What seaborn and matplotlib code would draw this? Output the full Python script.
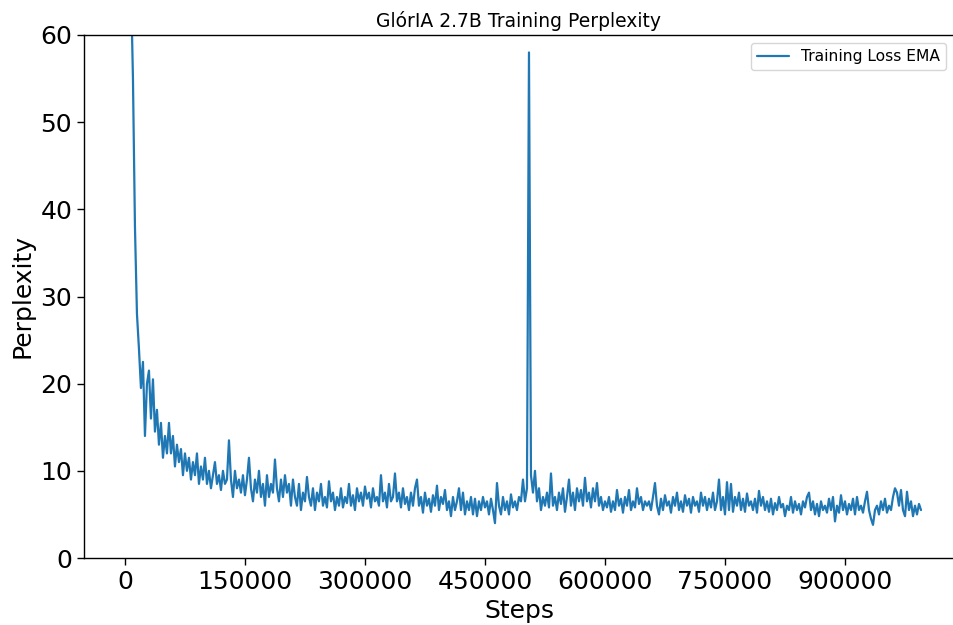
import numpy as np
import pandas as pd
import matplotlib
matplotlib.use("Agg")
import matplotlib.pyplot as plt
import seaborn as sns

# ---- data ----
step_start = 5000
step_size = 2500

ppl_000k = [85, 66, 55, 38, 28, 24, 19.5, 22.5, 14, 20, 21.5, 16, 20.5, 14.5, 17, 13, 15.5, 11.5, 14, 12]
ppl_050k = [15.5, 12, 14, 10.5, 13, 11, 12.5, 9.5, 12, 10, 11.5, 9, 11, 9.5, 12, 8.5, 10.5, 9, 11.5, 8.5]
ppl_100k = [10, 8, 9.5, 11, 8.5, 9.5, 7.8, 10, 8.5, 9, 13.5, 9, 7, 10, 8, 9, 7.5, 9.5, 7.2, 9]
ppl_150k = [11.5, 8, 6.5, 9, 7.5, 10, 7, 8.5, 6, 9.5, 7, 8.5, 7.5, 11.3, 8, 6.5, 9, 7, 9.5, 7.5]
ppl_200k = [8.5, 6, 9, 7, 6, 8.5, 5.5, 7.5, 6.5, 9.3, 7, 6, 8, 5.5, 7.5, 6.5, 8.5, 6, 7, 5.8]
ppl_250k = [8.8, 6.5, 7.5, 5.5, 7, 6, 8, 5.8, 7, 6.3, 8.5, 6, 7.2, 5.5, 8, 6.5, 7.5, 6, 8.2, 6.8]
ppl_300k = [7.5, 5.8, 8, 6.5, 7, 6, 9.5, 6.5, 7.5, 5.8, 8.5, 6.5, 7, 9.7, 6.5, 7.5, 5.8, 8, 6.2, 7]
ppl_350k = [5.5, 7.5, 6, 8, 9, 6, 7, 5.2, 7.5, 6, 6.8, 5.3, 7.2, 6, 8.3, 5.5, 7, 6.2, 7.8, 5.5]
ppl_400k = [6.5, 4.8, 7, 5.5, 6.5, 8, 5.5, 7.5, 5, 6.5, 5.5, 7, 5, 6.8, 4.8, 6.5, 5.5, 7, 5.8, 6.5]
ppl_450k = [5, 6.8, 5.5, 4, 8.6, 6, 5, 7, 5.5, 6.5, 5, 7.3, 5.8, 6.5, 5.5, 7, 6.5, 9, 6.5, 8]
ppl_500k = [58, 9.5, 7.5, 10, 6.5, 8, 5.5, 7, 6, 7.5, 5.8, 9.7, 6, 7, 5.5, 7.5, 6.2, 8, 5.3, 7]
ppl_550k = [9, 6, 7.5, 5.5, 8, 6.5, 7.8, 6, 9.2, 6.5, 7.5, 5.8, 8, 6.5, 8.6, 6, 7, 5.5, 6.5, 5.8]
ppl_600k = [7, 5.3, 6.5, 5.5, 7.8, 6, 6.8, 5.2, 7, 6, 7.8, 5.5, 6.5, 5.8, 8, 6.2, 7, 5.5, 6.5, 6]
ppl_650k = [6.5, 5.5, 7, 8.6, 6, 5, 6.8, 5.5, 7.2, 6, 6.5, 5.2, 7, 6, 7.5, 5.5, 6.5, 5.3, 7.2, 6]
ppl_700k = [6.8, 5.2, 7, 6, 6.5, 5.3, 7.5, 6, 7, 5.5, 6.8, 5.8, 7.5, 5.5, 6.5, 9, 5.5, 7, 5, 8.7]
ppl_750k = [5.5, 8.5, 5.3, 7, 6, 7.5, 5.5, 6.8, 5.3, 7.4, 6, 6.5, 5.5, 6.8, 5.2, 7.7, 6, 7, 5.5, 6.5]
ppl_800k = [5.3, 6.8, 5, 6.3, 5.5, 7, 5.8, 6.2, 4.8, 6, 5.5, 7, 5.2, 6.5, 5.5, 6.2, 5, 6.5, 5.8, 7]
ppl_850k = [7.5, 5.5, 6.5, 5, 6.2, 4.8, 6.5, 5.5, 6, 5.2, 6.8, 5.5, 7, 4.2, 6, 5.2, 7.2, 5.5, 6.5, 5]
ppl_900k = [6.2, 5.5, 6.8, 5, 7, 5.5, 6, 5.2, 6.5, 7.6, 5.5, 4.5, 3.8, 5.5, 6, 5, 6.5, 5.5, 6.8, 5.2]
ppl_950k = [6, 5.5, 7, 8, 7.5, 6, 7.8, 5.5, 4.8, 7.6, 5.5, 6.5, 4.8, 6, 5, 6.2, 5.5]

perplexity = (ppl_000k + ppl_050k + ppl_100k + ppl_150k + ppl_200k + ppl_250k
              + ppl_300k + ppl_350k + ppl_400k + ppl_450k + ppl_500k + ppl_550k
              + ppl_600k + ppl_650k + ppl_700k + ppl_750k + ppl_800k + ppl_850k
              + ppl_900k + ppl_950k)
steps = step_start + step_size * np.arange(len(perplexity))

x_ticks = [0, 150000, 300000, 450000, 600000, 750000, 900000]
y_ticks = [0, 10, 20, 30, 40, 50, 60]

df = pd.DataFrame({"Steps": steps, "Perplexity": perplexity})

# ---- plot ----
sns.set_style("white")
plt.rcParams["font.family"] = ["DejaVu Sans"]
plt.rcParams["text.color"] = "black"
plt.rcParams["axes.labelcolor"] = "black"
plt.rcParams["xtick.color"] = "black"
plt.rcParams["ytick.color"] = "black"

fig = plt.figure(figsize=(9.54, 6.25), dpi=100)
ax = fig.add_axes([0.088, 0.1072, 0.912, 0.8368])

sns.lineplot(data=df, x="Steps", y="Perplexity", estimator=None,
             color="#1f77b4", linewidth=1.6, label="Training Loss EMA", ax=ax)

ax.set_xlim(-51250, 1036250)
ax.set_ylim(0, 60)
ax.set_xticks(x_ticks)
ax.set_xticklabels([str(t) for t in x_ticks])
ax.set_yticks(y_ticks)
ax.tick_params(axis="both", labelsize=18, length=5, width=1, colors="black",
               direction="out", bottom=True, left=True)
ax.set_xlabel("Steps", fontsize=18, color="black")
ax.set_ylabel("Perplexity", fontsize=18, color="black")
ax.set_title("GlórIA 2.7B Training Perplexity", fontsize=13.5, color="black")

for side in ["left", "bottom", "top"]:
    ax.spines[side].set_visible(True)
    ax.spines[side].set_color("black")
    ax.spines[side].set_linewidth(1)
ax.spines["right"].set_visible(False)

leg = ax.legend(loc="upper right", fontsize=11.2, frameon=True)
for t in leg.get_texts():
    t.set_color("black")
ax.grid(False)

fig.savefig("out.png", dpi=100)
